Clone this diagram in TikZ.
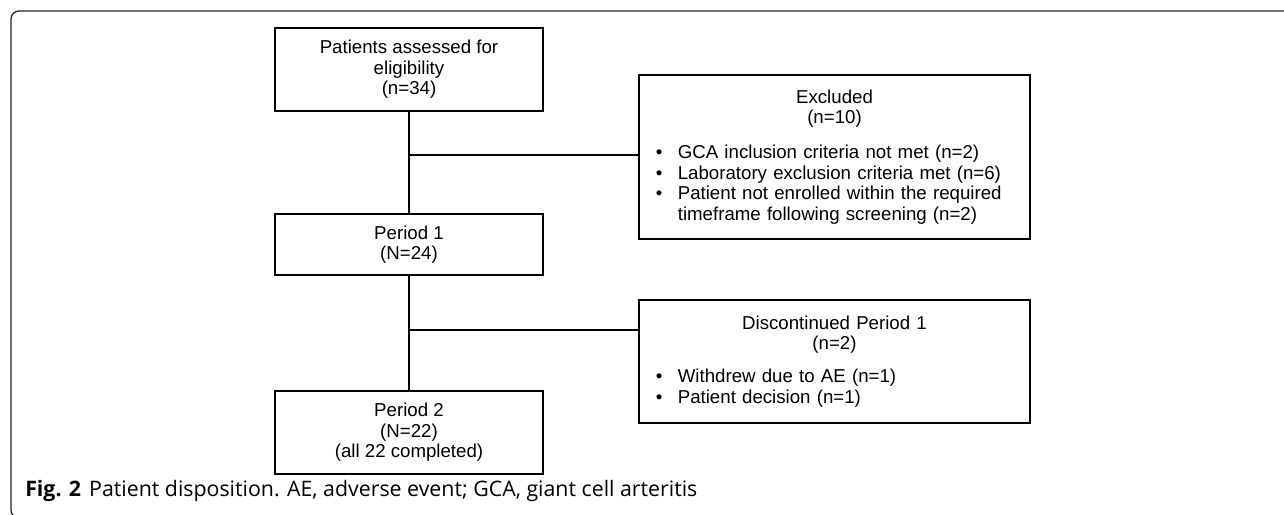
\documentclass[tikz,border=0pt]{standalone}
\usepackage{fontspec}
\setmainfont{Liberation Sans}
\newfontfamily\capfont{Open Sans}
\usetikzlibrary{positioning}

\newcommand{\bitem}[1]{\makebox[16.5pt][l]{\textbullet}#1}
\newcommand{\bcont}[1]{\makebox[16.5pt][l]{}#1}

\begin{document}
\begin{tikzpicture}[x=0.75pt, y=-0.75pt,
  box/.style={draw, line width=1pt, minimum width=201pt, inner sep=0pt, align=center, font=\fontsize{14}{15.3}\selectfont},
  listbox/.style={box, align=left, minimum width=293.25pt, text width=268pt},
  conn/.style={line width=0.8pt},
  frame/.style={line width=1pt, black!85, rounded corners=6pt}]
\useasboundingbox (0,0) rectangle (1284,514);
\draw[frame] (1300,11) -- (11,11) -- (11,518) -- (60,518);

\node (elig) [box, minimum height=62.25pt] at (409,69.5) {Patients assessed for\\eligibility\\(n=34)};
\node (p1) [box, minimum height=45.75pt] at (409,244.5) {Period 1\\(N=24)};
\node (p2) [box, minimum height=62.25pt] at (409,432.5) {Period 2\\(N=22)\\(all 22 completed)};

\node (excl) [listbox, minimum height=123pt] at (834.5,157) {{\centering Excluded\\(n=10)\par}\vspace{11pt}
  \bitem{GCA inclusion criteria not met (n=2)}\\
  \bitem{Laboratory exclusion criteria met (n=6)}\\
  \bitem{Patient not enrolled within the required}\\
  \bcont{timeframe following screening (n=2)}};
\node (disc) [listbox, minimum height=92.25pt] at (834.5,361.5) {{\centering Discontinued Period 1\\(n=2)\par}\vspace{9.5pt}
  \bitem{Withdrew due to AE (n=1)}\\
  \bitem{Patient decision (n=1)}};

\coordinate (j1) at (409,155);
\coordinate (j2) at (409,330);
\draw[conn] (elig) -- (p1);
\draw[conn] (p1) -- (p2);
\draw[conn] (j1) -- (j1 -| excl.west);
\draw[conn] (j2) -- (j2 -| disc.west);

\node (cap) [anchor=west, inner sep=0pt, font=\capfont\fontsize{16}{18}\selectfont] at (25,491) {\textbf{Fig. 2}\hspace{6pt}Patient disposition. AE, adverse event; GCA, giant cell arteritis};
\end{tikzpicture}
\end{document}
